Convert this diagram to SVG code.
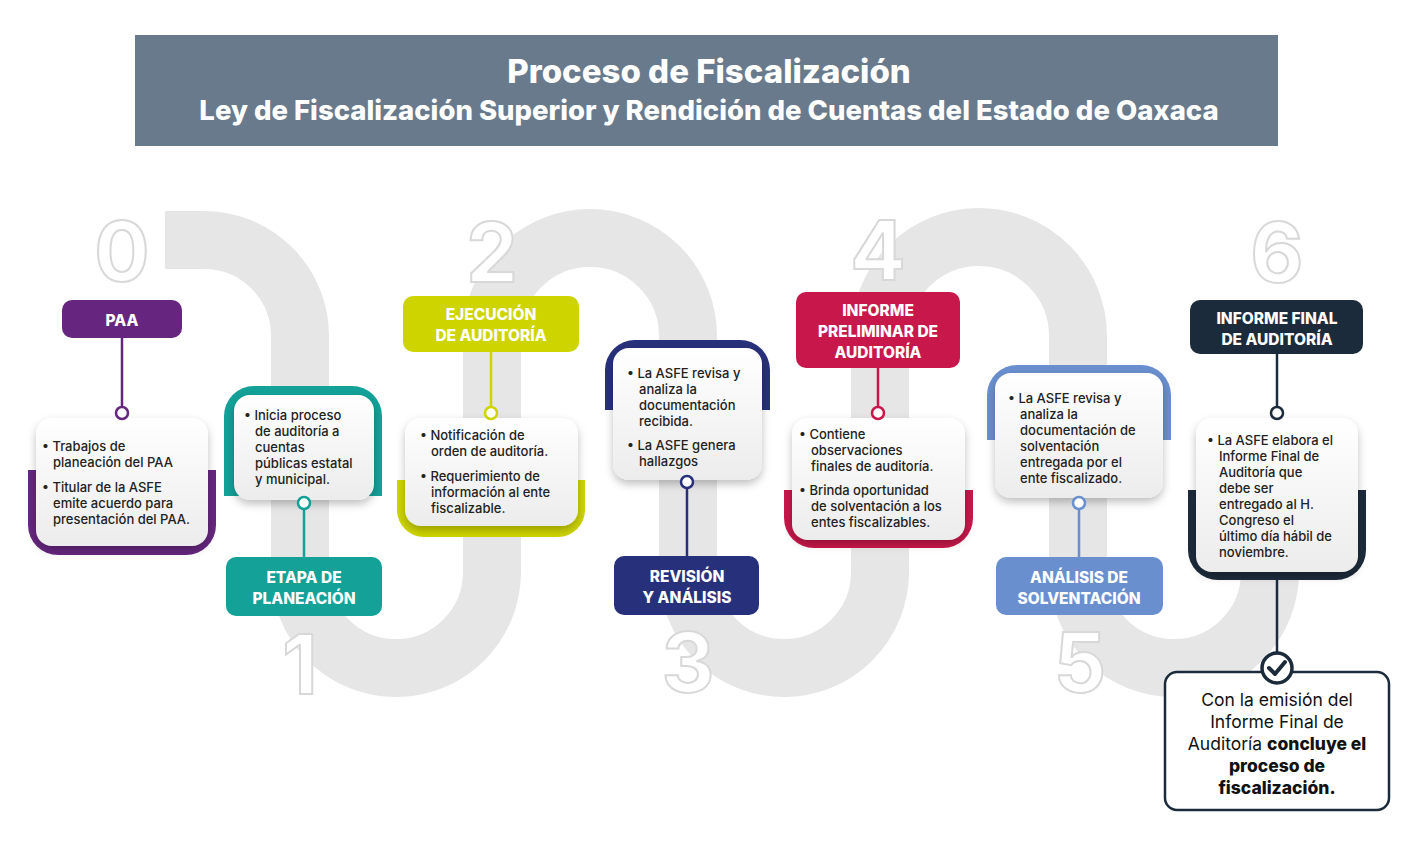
<svg xmlns="http://www.w3.org/2000/svg" width="1411" height="857" viewBox="0 0 1411 857">
<defs>
<filter id="sh" x="-20%" y="-20%" width="140%" height="150%"><feDropShadow dx="0" dy="4" stdDeviation="4" flood-color="#000" flood-opacity="0.25"/></filter>
<linearGradient id="wg" x1="0" y1="0" x2="0" y2="1"><stop offset="0" stop-color="#ffffff"/><stop offset="1" stop-color="#ececec"/></linearGradient>
</defs>
<style>
.lab{font-family:Inter,"Open Sans",sans-serif;font-weight:800;font-size:15.5px;fill:#fff;text-anchor:middle}
.tx{font-family:Inter,"Open Sans",sans-serif;font-weight:500;font-size:13px;fill:#222}
.num{font-family:Inter,"Open Sans",sans-serif;font-weight:700;font-size:82px;fill:#fff;stroke:#d8d8d8;stroke-width:2;text-anchor:middle}
.card{fill:url(#wg);filter:url(#sh)}
.dot{fill:#fff;stroke-width:2.5}
</style>
<rect width="1411" height="857" fill="#fff"/>
<path d="M165,240 H204 A96,96 0 0 1 300,336 V572 A96,96 0 0 0 492,572 V336 A98,98 0 0 1 688,336 V572 A96,96 0 0 0 880,572 V336 A99,99 0 0 1 1078,336 V572 A96,96 0 0 0 1270,572 V420" fill="none" stroke="#e6e6e6" stroke-width="58"/>
<rect x="135" y="35" width="1143" height="111" fill="#687a8c"/>
<text x="709" y="83" class="lab" style="font-size:33px">Proceso de Fiscalización</text>
<text x="709" y="120" class="lab" style="font-size:27.5px">Ley de Fiscalización Superior y Rendición de Cuentas del Estado de Oaxaca</text>
<g id="nums">
<text class="num" x="122" y="281">0</text>
<text class="num" x="300" y="694">1</text>
<text class="num" x="492" y="282">2</text>
<text class="num" x="688" y="692">3</text>
<text class="num" x="878" y="280">4</text>
<text class="num" x="1080" y="692">5</text>
<text class="num" x="1277" y="282">6</text>
</g>
<g id="connectors" stroke-width="2.5">
<line x1="122" y1="338" x2="122" y2="407" stroke="#66267f"/>
<line x1="304" y1="509" x2="304" y2="558" stroke="#13a198"/>
<line x1="491" y1="352" x2="491" y2="407" stroke="#cdd400"/>
<line x1="687" y1="488" x2="687" y2="556" stroke="#27307a"/>
<line x1="878" y1="368" x2="878" y2="407" stroke="#c8174a"/>
<line x1="1079" y1="509" x2="1079" y2="558" stroke="#6a8fcf"/>
<line x1="1277" y1="354" x2="1277" y2="407" stroke="#1c2b3b"/>
<line x1="1277" y1="580" x2="1277" y2="654" stroke="#1c2b3b"/>
</g>
<g id="n0">
<rect x="62" y="300" width="120" height="38" rx="10" fill="#66267f"/>
<text class="lab" x="122" y="326">PAA</text>
<path d="M28,470 H216 V525 A30,30 0 0 1 186,555 H58 A30,30 0 0 1 28,525 Z" fill="#66267f"/>
<rect class="card" x="36" y="418" width="172" height="128" rx="16"/>
<circle class="dot" cx="122" cy="413" r="6" stroke="#66267f"/>
<text class="tx"><tspan x="42" y="451">•  Trabajos de</tspan><tspan x="53" y="467">planeación del PAA</tspan><tspan x="42" y="492">•  Titular de la ASFE</tspan><tspan x="53" y="508">emite acuerdo para</tspan><tspan x="53" y="524">presentación del PAA.</tspan></text>
</g>
<g id="n1">
<rect x="226" y="557" width="156" height="59" rx="10" fill="#13a198"/>
<text class="lab" x="304" y="583">ETAPA DE</text><text class="lab" x="304" y="604">PLANEACIÓN</text>
<path d="M224,496 V416 A30,30 0 0 1 254,386 H352 A30,30 0 0 1 382,416 V496 Z" fill="#13a198"/>
<rect class="card" x="234" y="395" width="140" height="105" rx="16"/>
<circle class="dot" cx="304" cy="503" r="6" stroke="#13a198"/>
<text class="tx"><tspan x="244" y="420">•  Inicia proceso</tspan><tspan x="255" y="436">de auditoría a</tspan><tspan x="255" y="452">cuentas</tspan><tspan x="255" y="468">públicas estatal</tspan><tspan x="255" y="484">y municipal.</tspan></text>
</g>
<g id="n2">
<rect x="403" y="296" width="176" height="56" rx="10" fill="#cdd400"/>
<text class="lab" x="491" y="320">EJECUCIÓN</text><text class="lab" x="491" y="341">DE AUDITORÍA</text>
<path d="M397,480 H585 V510 A27,27 0 0 1 558,537 H424 A27,27 0 0 1 397,510 Z" fill="#cdd400"/>
<rect class="card" x="405" y="418" width="173" height="108" rx="16"/>
<circle class="dot" cx="491" cy="413" r="6" stroke="#cdd400"/>
<text class="tx"><tspan x="420" y="440">•  Notificación de</tspan><tspan x="431" y="456">orden de auditoría.</tspan><tspan x="420" y="481">•  Requerimiento de</tspan><tspan x="431" y="497">información al ente</tspan><tspan x="431" y="513">fiscalizable.</tspan></text>
</g>
<g id="n3">
<rect x="614" y="556" width="145" height="59" rx="10" fill="#27307a"/>
<text class="lab" x="687" y="582">REVISIÓN</text><text class="lab" x="687" y="603">Y ANÁLISIS</text>
<path d="M605,410 V370 A30,30 0 0 1 635,340 H740 A30,30 0 0 1 770,370 V410 Z" fill="#27307a"/>
<rect class="card" x="613" y="348" width="149" height="132" rx="16"/>
<circle class="dot" cx="687" cy="482" r="6" stroke="#27307a"/>
<text class="tx"><tspan x="627" y="378">•  La ASFE revisa y</tspan><tspan x="639" y="394">analiza la</tspan><tspan x="639" y="410">documentación</tspan><tspan x="639" y="426">recibida.</tspan><tspan x="627" y="450">•  La ASFE genera</tspan><tspan x="639" y="466">hallazgos</tspan></text>
</g>
<g id="n4">
<rect x="796" y="292" width="164" height="76" rx="10" fill="#c8174a"/>
<text class="lab" x="878" y="316">INFORME</text><text class="lab" x="878" y="337">PRELIMINAR DE</text><text class="lab" x="878" y="358">AUDITORÍA</text>
<path d="M784,490 H973 V518 A30,30 0 0 1 943,548 H814 A30,30 0 0 1 784,518 Z" fill="#c8174a"/>
<rect class="card" x="792" y="418" width="173" height="122" rx="16"/>
<circle class="dot" cx="878" cy="413" r="6" stroke="#c8174a"/>
<text class="tx"><tspan x="799" y="439">•  Contiene</tspan><tspan x="811" y="455">observaciones</tspan><tspan x="811" y="471">finales de auditoría.</tspan><tspan x="799" y="495">•  Brinda oportunidad</tspan><tspan x="811" y="511">de solventación  a los</tspan><tspan x="811" y="527">entes fiscalizables.</tspan></text>
</g>
<g id="n5">
<rect x="996" y="557" width="167" height="58" rx="10" fill="#6a8fcf"/>
<text class="lab" x="1079" y="583">ANÁLISIS DE</text><text class="lab" x="1079" y="604">SOLVENTACIÓN</text>
<path d="M987,440 V395 A30,30 0 0 1 1017,365 H1141 A30,30 0 0 1 1171,395 V440 Z" fill="#6a8fcf"/>
<rect class="card" x="995" y="373" width="168" height="125" rx="16"/>
<circle class="dot" cx="1079" cy="503" r="6" stroke="#6a8fcf"/>
<text class="tx"><tspan x="1008" y="403">•  La ASFE revisa y</tspan><tspan x="1020" y="419">analiza la</tspan><tspan x="1020" y="435">documentación de</tspan><tspan x="1020" y="451">solventación</tspan><tspan x="1020" y="467">entregada por el</tspan><tspan x="1020" y="483">ente fiscalizado.</tspan></text>
</g>
<g id="n6">
<rect x="1190" y="300" width="173" height="54" rx="10" fill="#1c2b3b"/>
<text class="lab" x="1277" y="324">INFORME FINAL</text><text class="lab" x="1277" y="345">DE AUDITORÍA</text>
<path d="M1188,490 H1366 V550 A30,30 0 0 1 1336,580 H1218 A30,30 0 0 1 1188,550 Z" fill="#1c2b3b"/>
<rect class="card" x="1196" y="418" width="162" height="154" rx="16"/>
<circle class="dot" cx="1277" cy="413" r="6" stroke="#1c2b3b"/>
<text class="tx"><tspan x="1207" y="445">•  La ASFE elabora el</tspan><tspan x="1219" y="461">Informe Final de</tspan><tspan x="1219" y="477">Auditoría que</tspan><tspan x="1219" y="493">debe ser</tspan><tspan x="1219" y="509">entregado al H.</tspan><tspan x="1219" y="525">Congreso el</tspan><tspan x="1219" y="541">último día hábil de</tspan><tspan x="1219" y="557">noviembre.</tspan></text>
</g>
<g id="final">
<rect x="1165" y="672" width="224" height="138" rx="12" fill="#fff" stroke="#1c2b3b" stroke-width="2.5"/>
<circle cx="1277" cy="668" r="15" fill="#fff" stroke="#1c2b3b" stroke-width="3.5"/>
<path d="M1269,668 L1275,674 L1285,662" fill="none" stroke="#1c2b3b" stroke-width="4" stroke-linecap="round" stroke-linejoin="round"/>
<text style="font-family:Inter,'Open Sans',sans-serif;font-size:17.5px;fill:#111;text-anchor:middle"><tspan x="1277" y="706">Con la emisión del</tspan><tspan x="1277" y="728">Informe Final de</tspan><tspan x="1277" y="750">Auditoría <tspan font-weight="800">concluye el</tspan></tspan><tspan x="1277" y="772" font-weight="800">proceso de</tspan><tspan x="1277" y="794" font-weight="800">fiscalización.</tspan></text>
</g>
</svg>
